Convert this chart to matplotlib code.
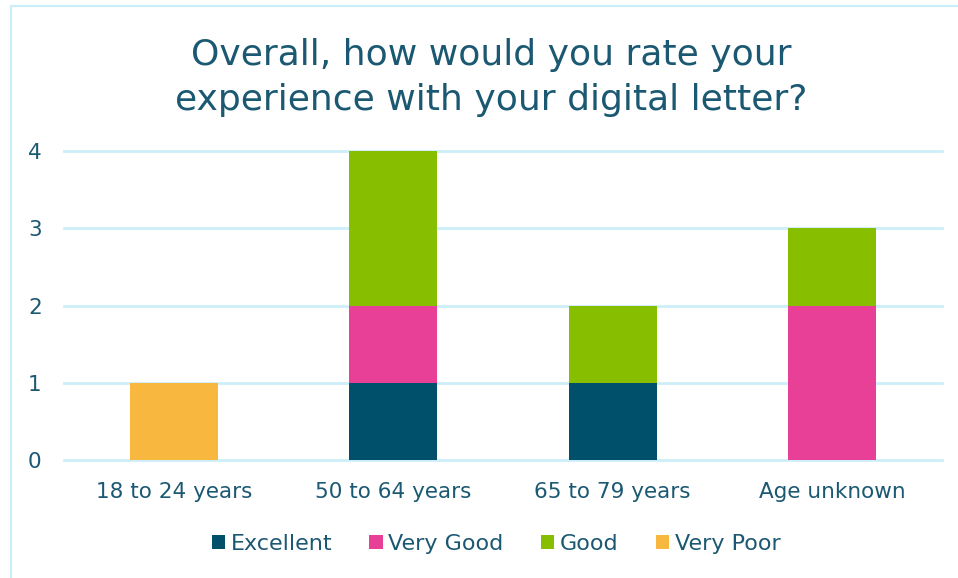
import matplotlib
matplotlib.use("Agg")
import matplotlib.pyplot as plt
from matplotlib.patches import Rectangle, Patch
import numpy as np

categories = ["18 to 24 years", "50 to 64 years", "65 to 79 years", "Age unknown"]
series_names = ["Excellent", "Very Good", "Good", "Very Poor"]
excellent = [0, 1, 1, 0]
very_good = [0, 1, 0, 2]
good = [0, 2, 1, 1]
very_poor = [1, 0, 0, 0]
y_ticks = [0, 1, 2, 3, 4]

colors = ["#00506B", "#E84096", "#88BE00", "#F8B83F"]
text_color = "#1B5871"
grid_color = "#CDEFF9"
border_color = "#C8EEF9"

plt.rcParams["font.family"] = ["DejaVu Sans"]

fig = plt.figure(figsize=(9.58, 5.78), dpi=100)
fig.patch.set_facecolor("white")

# chart frame (extends past right and bottom edges)
fig.patches.append(Rectangle((11 / 958, -0.2), 1.2, 1.2 - 6 / 578,
                             transform=fig.transFigure, fill=False,
                             edgecolor=border_color, linewidth=1.5))

ax = fig.add_axes([64 / 958, 1 - 460 / 578, (942 - 64) / 958, (460 - 151) / 578])
x = np.arange(len(categories))
width = 0.4
bottom = np.zeros(len(categories))
for name, vals, c in zip(series_names, [excellent, very_good, good, very_poor], colors):
    vals = np.array(vals, dtype=float)
    ax.bar(x, vals, width, bottom=bottom, color=c, label=name, zorder=3)
    bottom += vals

ax.set_xlim(-0.5, len(categories) - 0.5)
ax.set_ylim(0, 4)
ax.set_yticks(y_ticks)
ax.set_xticks(x)
ax.set_xticklabels(categories)
ax.tick_params(axis="both", length=0, labelcolor=text_color, labelsize=15.5)
ax.tick_params(axis="y", pad=21)
ax.tick_params(axis="x", pad=16)
for s in ax.spines.values():
    s.set_visible(False)
ax.yaxis.grid(True, color=grid_color, linewidth=2, zorder=0)
for gl in ax.yaxis.get_gridlines():
    gl.set_clip_on(False)
ax.set_axisbelow(True)
for lbl in ax.get_yticklabels():
    lbl.set_horizontalalignment("center")

title_lines = ["Overall, how would you rate your", "experience with your digital letter?"]
for line, base in zip(title_lines, [65, 110]):
    fig.text(491 / 958, 1 - base / 578, line, ha="center", va="baseline",
             fontsize=26, color=text_color)

handles = [Patch(facecolor=c, edgecolor="none") for c in colors]
fig.legend(handles, series_names, loc="center", bbox_to_anchor=(496 / 958, 1 - 544 / 578),
           ncol=4, frameon=False, fontsize=16, labelcolor=text_color,
           handlelength=0.6, handleheight=0.6, handletextpad=0.25, columnspacing=1.68)

fig.savefig("out.png", dpi=100, facecolor="white")
